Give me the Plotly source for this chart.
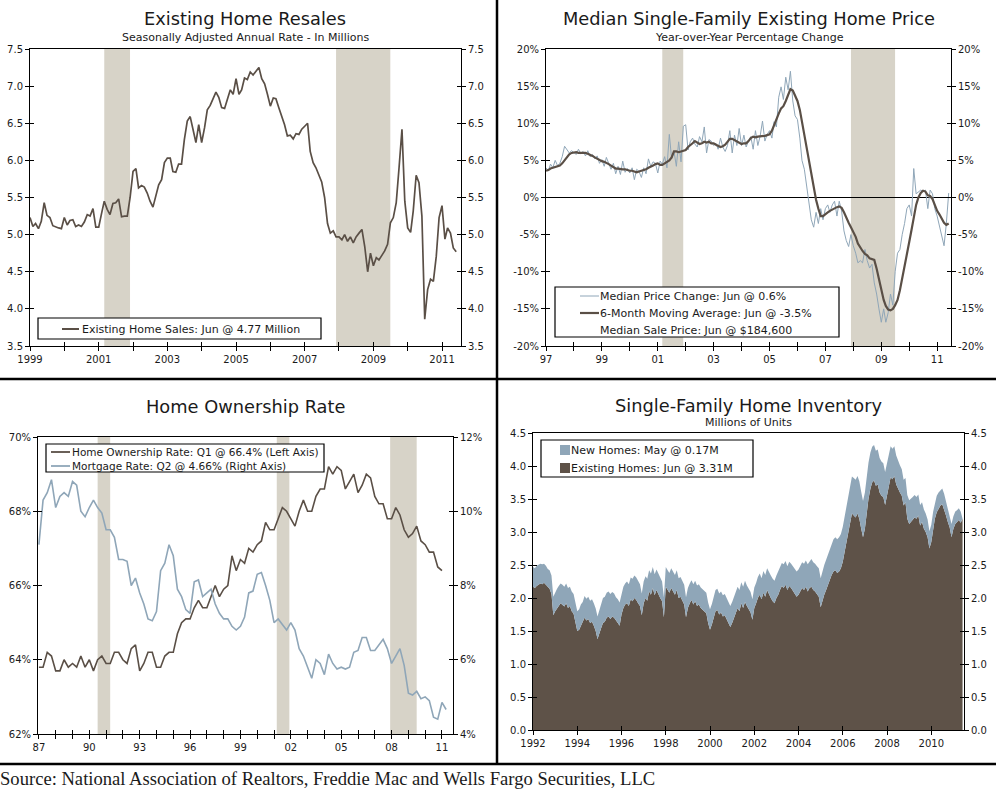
import copy
import pandas as pd
import plotly.graph_objects as go

W, H = 996, 794
FONT = "DejaVu Sans"
SERIF = "Liberation Serif"
DARK = "#5a4f46"
BLUE = "#8fa6b8"
BROWN = "#5e5248"
SHADE = "#d7d3c8"
TXT = "#1a1a1a"

# ---------------- Panel 1: Existing home sales (SAAR, millions), monthly Jan 1999 - Jun 2011
sales_1999 = [5.23, 5.11, 5.15, 5.08, 5.18, 5.43, 5.26, 5.23, 5.12, 5.10, 5.09, 5.08]
sales_2000 = [5.23, 5.13, 5.19, 5.20, 5.11, 5.13, 5.11, 5.17, 5.27, 5.25, 5.35, 5.10]
sales_2001 = [5.10, 5.29, 5.45, 5.34, 5.27, 5.42, 5.43, 5.48, 5.24, 5.25, 5.25, 5.50]
sales_2002 = [5.85, 5.89, 5.63, 5.66, 5.64, 5.56, 5.45, 5.37, 5.53, 5.67, 5.74, 5.97]
sales_2003 = [6.03, 6.03, 5.85, 5.84, 5.95, 5.95, 6.28, 6.53, 6.59, 6.41, 6.24, 6.48]
sales_2004 = [6.24, 6.44, 6.68, 6.74, 6.82, 6.92, 6.85, 6.71, 6.70, 6.84, 6.95, 6.89]
sales_2005 = [7.10, 6.89, 6.95, 7.11, 7.09, 7.19, 7.15, 7.20, 7.25, 7.10, 7.03, 6.89]
sales_2006 = [6.73, 6.84, 6.83, 6.71, 6.60, 6.48, 6.33, 6.34, 6.29, 6.36, 6.35, 6.42]
sales_2007 = [6.46, 6.50, 6.12, 5.97, 5.90, 5.80, 5.71, 5.50, 5.15, 5.02, 5.05, 4.97]
sales_2008 = [4.97, 4.93, 5.00, 4.91, 4.97, 4.89, 4.97, 5.02, 5.07, 4.84, 4.50, 4.75]
sales_2009 = [4.58, 4.69, 4.66, 4.72, 4.78, 4.87, 5.16, 5.23, 5.43, 5.90, 6.42, 5.45]
sales_2010 = [5.09, 5.03, 5.32, 5.80, 5.70, 5.25, 3.86, 4.26, 4.40, 4.37, 4.71, 5.23]
sales_2011 = [5.39, 4.94, 5.09, 5.02, 4.82, 4.77]
p1_years = list(range(1999, 2012))
p1_labels = ["1999", "", "2001", "", "2003", "", "2005", "", "2007", "", "2009", "", "2011"]

# ---------------- Panel 2: Median price YoY % change, monthly Jan 1997 - Jun 2011
chg_1997 = [4.0, 3.6, 4.5, 4.0, 5.0, 4.3, 4.6, 5.5, 6.9, 6.5, 6.0, 6.3]
chg_1998 = [6.0, 5.8, 6.5, 5.9, 6.2, 5.6, 6.3, 5.5, 5.8, 5.2, 5.6, 4.6]
chg_1999 = [5.1, 4.2, 5.4, 4.5, 3.8, 4.6, 3.2, 4.2, 3.1, 4.9, 3.4, 3.9]
chg_2000 = [3.3, 4.0, 2.4, 3.8, 3.5, 2.7, 4.0, 3.2, 5.2, 4.2, 4.8, 4.6]
chg_2001 = [3.3, 4.9, 4.5, 5.5, 4.0, 8.5, 5.2, 6.2, 4.2, 7.5, 4.8, 9.6]
chg_2002 = [9.8, 6.4, 7.5, 8.0, 7.2, 6.8, 8.2, 7.5, 9.5, 6.0, 7.8, 7.6]
chg_2003 = [7.0, 7.3, 6.5, 8.0, 6.8, 6.2, 7.0, 9.0, 6.0, 8.4, 7.0, 9.3]
chg_2004 = [7.0, 8.4, 6.8, 7.6, 8.2, 6.5, 9.0, 7.0, 8.3, 10.3, 7.6, 8.5]
chg_2005 = [9.0, 8.0, 10.2, 9.5, 13.5, 14.9, 13.2, 16.2, 14.5, 17.0, 13.0, 11.0]
chg_2006 = [10.5, 8.0, 5.0, 3.8, 1.5, -1.0, -3.0, -4.0, -2.0, -3.5, -1.5, -3.0]
chg_2007 = [-1.5, -1.0, -2.0, -1.0, -0.5, -2.5, -0.5, -1.8, -4.5, -5.8, -6.6, -5.0]
chg_2008 = [-6.5, -7.5, -8.8, -8.5, -8.8, -7.0, -8.5, -9.5, -9.0, -11.5, -13.0, -15.0]
chg_2009 = [-16.8, -15.0, -16.8, -15.5, -13.0, -14.5, -10.0, -7.5, -7.0, -5.0, -3.5, -1.5]
chg_2010 = [-1.0, -2.5, 3.9, 0.5, 0.8, 1.0, 0.8, 1.0, -1.5, 1.0, 0.5, -1.5]
chg_2011 = [-2.5, -4.0, -5.0, -6.5, -3.5, 0.6]

ma_1997 = [3.6, 3.7, 3.9, 4.0, 4.2, 4.2, 4.3, 4.6, 5.0, 5.4, 5.8, 6.0]
ma_1998 = [6.1, 6.1, 6.0, 6.0, 6.1, 6.0, 5.9, 5.8, 5.6, 5.4, 5.2, 5.0]
ma_1999 = [4.9, 4.8, 4.7, 4.5, 4.3, 4.1, 3.9, 3.9, 3.8, 3.8, 3.8, 3.7]
ma_2000 = [3.6, 3.6, 3.5, 3.4, 3.5, 3.6, 3.6, 3.8, 4.0, 4.1, 4.3, 4.5]
ma_2001 = [4.6, 4.4, 4.4, 4.6, 4.8, 5.0, 5.4, 6.2, 6.2, 6.1, 6.2, 6.3]
ma_2002 = [6.4, 6.8, 7.0, 7.3, 7.6, 7.4, 7.2, 7.3, 7.5, 7.4, 7.5, 7.3]
ma_2003 = [7.3, 7.1, 6.9, 6.8, 6.9, 7.1, 7.5, 7.9, 7.9, 7.7, 7.5, 7.3]
ma_2004 = [7.2, 7.3, 7.3, 7.6, 8.0, 8.2, 8.1, 8.2, 8.2, 8.3, 8.3, 8.4]
ma_2005 = [8.5, 9.0, 9.8, 10.5, 11.3, 12.0, 12.3, 13.0, 13.8, 14.6, 14.4, 13.8]
ma_2006 = [13.0, 11.8, 10.2, 8.5, 6.8, 4.8, 2.8, 1.0, -0.3, -1.5, -2.5, -2.5]
ma_2007 = [-2.3, -2.0, -1.8, -1.6, -1.5, -1.3, -1.2, -1.4, -2.0, -2.8, -3.4, -4.0]
ma_2008 = [-4.6, -5.3, -6.2, -6.8, -7.2, -7.6, -7.8, -8.2, -8.3, -8.4, -9.6, -11.0]
ma_2009 = [-12.8, -13.8, -14.6, -15.1, -15.2, -15.0, -14.5, -13.8, -12.5, -11.0, -9.5, -7.8]
ma_2010 = [-6.0, -4.3, -2.5, -1.0, 0.0, 0.6, 0.9, 0.8, 0.3, 0.2, -0.2, -1.0]
ma_2011 = [-1.8, -2.3, -2.9, -3.4, -3.7, -3.5]
p2_years = list(range(1997, 2012))
p2_labels = ["97", "", "99", "", "01", "", "03", "", "05", "", "07", "", "09", "", "11"]
p2_yticks = [-20, -15, -10, -5, 0, 5, 10, 15, 20]
p2_ylabels = ["-20%", "-15%", "-10%", "-5%", "0%", "5%", "10%", "15%", "20%"]

# ---------------- Panel 3: Home ownership rate (left) & mortgage rate (right), quarterly
own_rate = [
    63.8, 63.8, 64.2, 64.1, 63.7, 63.7, 64.0, 63.8, 63.9, 63.8, 64.1, 63.8,
    64.0, 63.7, 64.0, 64.1, 63.9, 63.9, 64.2, 64.2, 64.0, 63.9, 64.3, 64.4,
    63.7, 63.9, 64.2, 64.2, 63.8, 63.8, 64.1, 64.2, 64.2, 64.7, 65.0, 65.1,
    65.1, 65.4, 65.6, 65.4, 65.4, 65.7, 66.0, 65.7, 65.9, 66.0, 66.8, 66.4,
    66.7, 66.6, 67.0, 66.9, 67.1, 67.2, 67.7, 67.5, 67.5, 67.8, 68.1, 68.0,
    67.8, 67.6, 68.0, 68.3, 68.0, 68.0, 68.4, 68.6, 68.6, 69.2, 69.0, 69.2,
    69.1, 68.6, 68.8, 69.0, 68.5, 68.7, 69.0, 68.9, 68.4, 68.2, 68.2, 67.8,
    67.8, 68.1, 67.9, 67.5, 67.3, 67.4, 67.6, 67.2, 67.1, 66.9, 66.9, 66.5,
    66.4]
mortgage_rate = [
    9.10, 10.30, 10.50, 10.85, 10.10, 10.40, 10.50, 10.40, 10.80, 10.70, 10.00, 9.85,
    10.10, 10.30, 10.10, 9.95, 9.50, 9.50, 9.30, 8.70, 8.70, 8.65, 8.00, 8.20,
    7.80, 7.50, 7.10, 7.05, 7.30, 8.40, 8.60, 9.10, 8.80, 7.90, 7.70, 7.35,
    7.25, 8.10, 8.15, 7.70, 7.80, 7.90, 7.50, 7.25, 7.10, 7.10, 6.90, 6.80,
    6.90, 7.15, 7.80, 7.85, 8.30, 8.35, 8.00, 7.60, 7.00, 7.10, 6.95, 6.80,
    7.00, 6.80, 6.30, 6.10, 5.80, 5.50, 6.00, 5.90, 5.60, 6.15, 5.90, 5.75,
    5.80, 5.75, 5.80, 6.20, 6.25, 6.60, 6.60, 6.25, 6.25, 6.40, 6.55, 6.30,
    5.90, 6.10, 6.30, 5.85, 5.10, 5.05, 5.15, 4.95, 5.00, 4.90, 4.45, 4.40,
    4.85, 4.66]
p3_years = list(range(1987, 2012))
p3_labels = ["87", "", "", "90", "", "", "93", "", "", "96", "", "", "99", "", "",
             "02", "", "", "05", "", "", "08", "", "", "11"]

# ---------------- Panel 4: Single-family inventory (millions), monthly Jan 1992 - Jun 2011
exist_inv = [
    2.17, 2.15, 2.18, 2.20, 2.22, 2.21, 2.23, 2.20, 2.16, 2.14, 2.06, 1.74,   # 1992
    1.80, 1.85, 1.88, 1.92, 1.90, 1.87, 1.92, 1.85, 1.88, 1.80, 1.76, 1.62,   # 1993
    1.50, 1.52, 1.58, 1.62, 1.70, 1.66, 1.68, 1.62, 1.64, 1.58, 1.50, 1.38,   # 1994
    1.45, 1.55, 1.62, 1.64, 1.70, 1.72, 1.68, 1.72, 1.70, 1.65, 1.62, 1.58,   # 1995
    1.75, 1.85, 1.90, 1.92, 1.88, 1.98, 1.95, 2.00, 1.97, 1.92, 1.88, 1.74,   # 1996
    1.92, 2.00, 1.96, 2.10, 2.05, 2.15, 2.04, 2.12, 2.05, 2.00, 1.95, 1.71,   # 1997
    2.17, 2.12, 2.08, 2.15, 2.10, 2.05, 2.12, 2.00, 2.02, 1.97, 1.90, 1.71,   # 1998
    1.85, 1.92, 1.97, 1.90, 1.95, 1.88, 1.90, 1.85, 1.82, 1.80, 1.77, 1.62,   # 1999
    1.52, 1.60, 1.70, 1.80, 1.82, 1.75, 1.78, 1.72, 1.74, 1.68, 1.64, 1.56,   # 2000
    1.62, 1.70, 1.78, 1.85, 1.80, 1.92, 1.85, 1.94, 1.88, 1.82, 1.78, 1.67,   # 2001
    1.85, 1.92, 2.00, 2.05, 1.98, 2.08, 2.02, 2.12, 2.05, 2.00, 1.95, 1.92,   # 2002
    2.00, 2.05, 2.12, 2.18, 2.15, 2.20, 2.12, 2.18, 2.15, 2.10, 2.05, 2.02,   # 2003
    2.05, 2.10, 2.15, 2.12, 2.17, 2.10, 2.15, 2.17, 2.12, 2.10, 2.05, 2.02,   # 2004
    1.86, 1.98, 2.05, 2.12, 2.20, 2.28, 2.35, 2.40, 2.42, 2.38, 2.40, 2.45,   # 2005
    2.55, 2.70, 2.85, 3.00, 3.15, 3.28, 3.25, 3.22, 3.28, 3.20, 3.05, 2.92,   # 2006
    3.05, 3.30, 3.50, 3.65, 3.75, 3.78, 3.70, 3.72, 3.60, 3.55, 3.53, 3.41,   # 2007
    3.55, 3.70, 3.83, 3.80, 3.85, 3.72, 3.65, 3.60, 3.55, 3.40, 3.45, 3.20,   # 2008
    3.12, 3.15, 3.18, 3.22, 3.20, 3.25, 3.10, 3.15, 3.05, 3.00, 2.92, 2.75,   # 2009
    2.85, 3.05, 3.20, 3.30, 3.35, 3.40, 3.42, 3.35, 3.25, 3.15, 3.07, 2.92,   # 2010
    3.05, 3.12, 3.15, 3.18, 3.14, 3.20]                                       # 2011
new_inv = [
    0.30, 0.30, 0.31, 0.31, 0.30, 0.30, 0.29, 0.29, 0.28, 0.28, 0.28, 0.28,
    0.29, 0.29, 0.30, 0.30, 0.30, 0.30, 0.30, 0.30, 0.29, 0.30, 0.30, 0.29,
    0.30, 0.31, 0.32, 0.32, 0.33, 0.33, 0.34, 0.34, 0.34, 0.34, 0.34, 0.34,
    0.36, 0.37, 0.38, 0.38, 0.38, 0.38, 0.38, 0.37, 0.37, 0.36, 0.36, 0.35,
    0.32, 0.32, 0.32, 0.33, 0.33, 0.33, 0.34, 0.34, 0.34, 0.33, 0.33, 0.33,
    0.33, 0.33, 0.33, 0.32, 0.32, 0.32, 0.32, 0.31, 0.31, 0.31, 0.30, 0.30,
    0.30, 0.30, 0.30, 0.30, 0.30, 0.30, 0.30, 0.30, 0.30, 0.30, 0.30, 0.30,
    0.30, 0.30, 0.30, 0.31, 0.31, 0.31, 0.31, 0.31, 0.31, 0.31, 0.31, 0.31,
    0.31, 0.31, 0.31, 0.32, 0.32, 0.32, 0.32, 0.32, 0.32, 0.32, 0.32, 0.32,
    0.32, 0.32, 0.32, 0.32, 0.32, 0.32, 0.32, 0.32, 0.31, 0.31, 0.31, 0.31,
    0.31, 0.31, 0.32, 0.32, 0.32, 0.33, 0.33, 0.33, 0.33, 0.34, 0.34, 0.34,
    0.34, 0.35, 0.35, 0.35, 0.36, 0.36, 0.36, 0.37, 0.37, 0.38, 0.38, 0.38,
    0.38, 0.39, 0.39, 0.40, 0.40, 0.41, 0.41, 0.42, 0.42, 0.42, 0.43, 0.43,
    0.44, 0.44, 0.45, 0.46, 0.46, 0.47, 0.48, 0.49, 0.50, 0.51, 0.52, 0.52,
    0.53, 0.54, 0.55, 0.55, 0.56, 0.56, 0.57, 0.57, 0.57, 0.57, 0.56, 0.55,
    0.55, 0.55, 0.55, 0.55, 0.54, 0.54, 0.53, 0.53, 0.52, 0.52, 0.51, 0.50,
    0.49, 0.48, 0.47, 0.46, 0.45, 0.44, 0.43, 0.41, 0.40, 0.39, 0.37, 0.36,
    0.36, 0.35, 0.35, 0.34, 0.33, 0.32, 0.31, 0.30, 0.29, 0.28, 0.27, 0.26,
    0.26, 0.26, 0.25, 0.25, 0.25, 0.24, 0.24, 0.23, 0.22, 0.21, 0.20, 0.20,
    0.19, 0.19, 0.18, 0.18, 0.17]
p4_years = list(range(1992, 2012, 2))

recessions = [("1990-07-01", "1991-03-31"), ("2001-03-01", "2001-11-30"), ("2007-12-01", "2009-06-30")]

# legend texts
leg1_names = ["Existing Home Sales: Jun @ 4.77 Million"]
leg2_names = ["Median Price Change: Jun @ 0.6%", "6-Month Moving Average: Jun @ -3.5%",
              "Median Sale Price: Jun @ $184,600"]
leg3_names = ["Home Ownership Rate: Q1 @ 66.4% (Left Axis)", "Mortgage Rate: Q2 @ 4.66% (Right Axis)"]
leg4_names = ["New Homes: May @ 0.17M", "Existing Homes: Jun @ 3.31M"]

# ---------------- helpers
def px(x):
    return x / W

def py(y):
    return 1 - y / H

sales = (sales_1999 + sales_2000 + sales_2001 + sales_2002 + sales_2003 + sales_2004 + sales_2005
         + sales_2006 + sales_2007 + sales_2008 + sales_2009 + sales_2010 + sales_2011)
chg = (chg_1997 + chg_1998 + chg_1999 + chg_2000 + chg_2001 + chg_2002 + chg_2003 + chg_2004
       + chg_2005 + chg_2006 + chg_2007 + chg_2008 + chg_2009 + chg_2010 + chg_2011)
ma6 = (ma_1997 + ma_1998 + ma_1999 + ma_2000 + ma_2001 + ma_2002 + ma_2003 + ma_2004
       + ma_2005 + ma_2006 + ma_2007 + ma_2008 + ma_2009 + ma_2010 + ma_2011)

d_sales = pd.date_range("1999-01-01", periods=len(sales), freq="MS")
d_chg = pd.date_range("1997-01-01", periods=len(chg), freq="MS")
d_own = pd.date_range("1987-01-01", periods=len(own_rate), freq="QS")
d_mort = pd.date_range("1987-01-01", periods=len(mortgage_rate), freq="QS")
d_exist = pd.date_range("1992-01-01", periods=len(exist_inv), freq="MS")
d_new = pd.date_range("1992-01-01", periods=len(new_inv), freq="MS")

fig = go.Figure()

def ghost(x, y, xa, ya):
    fig.add_trace(go.Scatter(x=x, y=y, mode="lines", line=dict(width=0), opacity=0,
                             showlegend=False, hoverinfo="skip", xaxis=xa, yaxis=ya))

# Panel 1
fig.add_trace(go.Scatter(x=d_sales, y=sales, mode="lines", line=dict(color=DARK, width=1.7),
                         name=leg1_names[0], showlegend=False, xaxis="x", yaxis="y"))
ghost(d_sales, sales, "x", "y2")
# Panel 2
fig.add_trace(go.Scatter(x=d_chg, y=chg, mode="lines", line=dict(color=BLUE, width=1),
                         name=leg2_names[0], showlegend=False, xaxis="x2", yaxis="y3"))
fig.add_trace(go.Scatter(x=d_chg, y=ma6, mode="lines", line=dict(color=DARK, width=2.2),
                         name=leg2_names[1], showlegend=False, xaxis="x2", yaxis="y3"))
ghost(d_chg, chg, "x2", "y4")
# Panel 3
fig.add_trace(go.Scatter(x=d_own, y=own_rate, mode="lines", line=dict(color=DARK, width=1.6),
                         name=leg3_names[0], showlegend=False, xaxis="x3", yaxis="y5"))
fig.add_trace(go.Scatter(x=d_mort, y=mortgage_rate, mode="lines", line=dict(color=BLUE, width=1.6),
                         name=leg3_names[1], showlegend=False, xaxis="x3", yaxis="y6"))
# Panel 4
fig.add_trace(go.Scatter(x=d_exist, y=exist_inv, mode="lines", stackgroup="inv",
                         line=dict(width=0, color=BROWN), fillcolor=BROWN,
                         name=leg4_names[1], showlegend=False, xaxis="x4", yaxis="y7"))
fig.add_trace(go.Scatter(x=d_new, y=new_inv, mode="lines", stackgroup="inv",
                         line=dict(width=0, color=BLUE), fillcolor=BLUE,
                         name=leg4_names[0], showlegend=False, xaxis="x4", yaxis="y7"))
ghost(d_exist, exist_inv, "x4", "y8")

tickfont = dict(family=FONT, size=10, color=TXT)
base = dict(showgrid=False, zeroline=False, showline=True, linecolor="black", linewidth=1,
            ticks="outside", ticklen=4, tickcolor="black", tickwidth=1, tickfont=tickfont,
            fixedrange=True)

def yr_dates(years):
    return [f"{y}-01-01" for y in years]

axes = dict(
    xaxis=dict(base, domain=[px(30), px(461)], anchor="y", type="date",
               range=["1999-01-01", "2011-07-22"], tickmode="array",
               tickvals=yr_dates(p1_years), ticktext=p1_labels, mirror=True),
    yaxis=dict(base, domain=[py(346), py(49)], anchor="x", range=[3.5, 7.5], dtick=0.5,
               tickformat=".1f"),
    yaxis2=dict(base, overlaying="y", side="right", anchor="x", range=[3.5, 7.5], dtick=0.5,
                tickformat=".1f"),
    xaxis2=dict(base, domain=[px(546), px(951)], anchor="y3", type="date",
                range=["1997-01-01", "2011-07-01"], tickmode="array",
                tickvals=yr_dates(p2_years), ticktext=p2_labels, mirror=True),
    yaxis3=dict(base, domain=[py(346), py(49)], anchor="x2", range=[-20, 20], tickmode="array",
                tickvals=p2_yticks, ticktext=p2_ylabels, zeroline=True, zerolinecolor="black",
                zerolinewidth=1),
    yaxis4=dict(base, overlaying="y3", side="right", anchor="x2", range=[-20, 20], tickmode="array",
                tickvals=p2_yticks, ticktext=p2_ylabels),
    xaxis3=dict(base, domain=[px(38), px(453)], anchor="y5", type="date",
                range=["1986-12-12", "2011-08-29"], tickmode="array",
                tickvals=yr_dates(p3_years), ticktext=p3_labels, mirror=True),
    yaxis5=dict(base, domain=[py(734), py(437)], anchor="x3", range=[62, 70], dtick=2,
                ticksuffix="%"),
    yaxis6=dict(base, overlaying="y5", side="right", anchor="x3", range=[4, 12], dtick=2,
                ticksuffix="%"),
    xaxis4=dict(base, domain=[px(533), px(964)], anchor="y7", type="date",
                range=["1992-01-01", "2011-06-25"], tickmode="array",
                tickvals=yr_dates(p4_years), ticktext=[str(y) for y in p4_years], mirror=True),
    yaxis7=dict(base, domain=[py(730), py(433)], anchor="x4", range=[0, 4.5], dtick=0.5,
                tickformat=".1f"),
    yaxis8=dict(base, overlaying="y7", side="right", anchor="x4", range=[0, 4.5], dtick=0.5,
                tickformat=".1f"),
)

# extra overlay axes that draw the inner half of each tick mark (ticks cross the axis lines)
panels = [("", "", "2", (d_sales, sales)), ("2", "3", "4", (d_chg, chg)),
          ("3", "5", "6", (d_own, own_rate)), ("4", "7", "8", (d_exist, exist_inv))]
nx, ny = 5, 9
for xs, yl, yr, (dx, dy) in panels:
    xid, ylid = "x" + xs, "y" + yl
    ex = copy.deepcopy(axes["xaxis" + xs])
    for k in ("domain", "mirror"):
        ex.pop(k, None)
    ex.update(overlaying=xid, anchor=ylid, side="bottom", ticks="inside", showticklabels=False,
              showline=False)
    axes[f"xaxis{nx}"] = ex
    ghost(dx, dy, f"x{nx}", ylid)
    nx += 1
    for src, side in ((yl, "left"), (yr, "right")):
        ey = copy.deepcopy(axes["yaxis" + src])
        ey.pop("domain", None)
        ey.update(overlaying=ylid, anchor=xid, side=side, ticks="inside", showticklabels=False,
                  showline=False, zeroline=False)
        axes[f"yaxis{ny}"] = ey
        ghost(dx, dy, xid, f"y{ny}")
        ny += 1

shapes = []
# recession bars
for xref, yref, panel_recs in (("x", "y", recessions[1:]), ("x2", "y3", recessions[1:]),
                               ("x3", "y5", recessions)):
    for a, b in panel_recs:
        shapes.append(dict(type="rect", xref=xref, yref=f"{yref} domain", x0=a, x1=b, y0=0, y1=1,
                           fillcolor=SHADE, line=dict(width=0), layer="below"))
# legend boxes
for (x0, y0, x1, y1) in [(38, 318, 321, 339), (555, 287, 839, 337), (46, 444, 324, 472),
                         (541, 440, 753, 477)]:
    shapes.append(dict(type="rect", xref="paper", yref="paper", x0=px(x0), x1=px(x1), y0=py(y1),
                       y1=py(y0), fillcolor="white", line=dict(color="black", width=1.2), layer="above"))

def leg_line(x0, x1, y, color, width):
    shapes.append(dict(type="line", xref="paper", yref="paper", x0=px(x0), x1=px(x1), y0=py(y), y1=py(y),
                       line=dict(color=color, width=width), layer="above"))

def leg_square(x0, y, size, color):
    shapes.append(dict(type="rect", xref="paper", yref="paper", x0=px(x0), x1=px(x0 + size),
                       y0=py(y + size / 2), y1=py(y - size / 2), fillcolor=color, line=dict(width=0),
                       layer="above"))

leg_line(62, 79, 329, DARK, 2)
leg_line(580, 599, 296, BLUE, 1)
leg_line(580, 599, 313, DARK, 2.2)
leg_line(51, 70, 452, DARK, 1.8)
leg_line(51, 70, 466, BLUE, 1.8)
leg_square(560, 450, 10, BLUE)
leg_square(560, 468, 10, BROWN)

# panel dividers
shapes.append(dict(type="line", xref="paper", yref="paper", x0=px(497), x1=px(497), y0=py(764), y1=1,
                   line=dict(color="black", width=2.5)))
shapes.append(dict(type="line", xref="paper", yref="paper", x0=0, x1=1, y0=py(379), y1=py(379),
                   line=dict(color="black", width=2.5)))
shapes.append(dict(type="line", xref="paper", yref="paper", x0=0, x1=1, y0=py(764), y1=py(764),
                   line=dict(color="black", width=2.5)))

def ann(text, x, y, size, family=FONT, xanchor="center"):
    return dict(text=text, x=px(x), y=py(y), xref="paper", yref="paper", showarrow=False,
                xanchor=xanchor, yanchor="middle", borderpad=0,
                font=dict(family=family, size=size, color=TXT))

annotations = [
    ann("Existing Home Resales", 245, 19, 17.8),
    ann("Seasonally Adjusted Annual Rate - In Millions", 245, 37, 11),
    ann("Median Single-Family Existing Home Price", 749, 19, 17.8),
    ann("Year-over-Year Percentage Change", 749, 37, 11),
    ann("Home Ownership Rate", 245, 407, 17.8),
    ann("Single-Family Home Inventory", 748, 405, 17.8),
    ann("Millions of Units", 748, 422, 11),
    ann("Source: National Association of Realtors, Freddie Mac and Wells Fargo Securities, LLC",
        -1, 778, 18.6, family=SERIF, xanchor="left"),
    ann(leg1_names[0], 81, 329, 11, xanchor="left"),
    ann(leg2_names[0], 599, 296, 11, xanchor="left"),
    ann(leg2_names[1], 599, 313, 11, xanchor="left"),
    ann(leg2_names[2], 599, 330, 11, xanchor="left"),
    ann(leg3_names[0], 71, 452, 10.5, xanchor="left"),
    ann(leg3_names[1], 71, 466, 10.5, xanchor="left"),
    ann(leg4_names[0], 570, 450, 11, xanchor="left"),
    ann(leg4_names[1], 570, 468, 11, xanchor="left"),
]

fig.update_layout(
    width=W, height=H, margin=dict(l=0, r=0, t=0, b=0, autoexpand=False),
    paper_bgcolor="white", plot_bgcolor="white",
    font=dict(family=FONT, color=TXT),
    showlegend=False,
    shapes=shapes, annotations=annotations,
    hovermode=False,
    **axes,
)

fig.write_html("out.html", config={"displayModeBar": False, "staticPlot": True},
               post_script="document.body.style.margin='0px';")
